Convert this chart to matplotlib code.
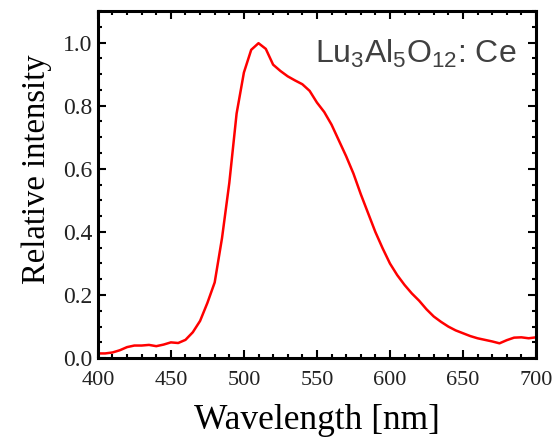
import numpy as np
import matplotlib
matplotlib.use("Agg")
import matplotlib.pyplot as plt
from matplotlib.ticker import MultipleLocator, FormatStrFormatter

# Emission spectrum (5 nm steps)
wavelength = np.arange(400, 701, 5)
intensity = [
    0.015, 0.015, 0.018, 0.025, 0.035, 0.040, 0.040, 0.042, 0.038, 0.043,
    0.050, 0.048, 0.058, 0.082, 0.118, 0.175, 0.240, 0.380, 0.555, 0.775,
    0.905, 0.977, 0.998, 0.980, 0.930, 0.910, 0.893, 0.880, 0.868, 0.847,
    0.810, 0.780, 0.740, 0.690, 0.640, 0.585, 0.520, 0.460, 0.400, 0.348,
    0.300, 0.263, 0.232, 0.205, 0.182, 0.155, 0.132, 0.115, 0.100, 0.088,
    0.079, 0.070, 0.063, 0.058, 0.053, 0.047, 0.057, 0.065, 0.066, 0.063,
    0.066,
]

plt.rcParams['mathtext.fontset'] = 'custom'
plt.rcParams['mathtext.rm'] = 'Liberation Sans'
plt.rcParams['mathtext.it'] = 'Liberation Sans'

fig = plt.figure(figsize=(5.56, 4.40), dpi=100)
ax = fig.add_axes([0.176, 0.186, 0.788, 0.789])

ax.plot(wavelength, intensity, color='red', linewidth=1.8)

ax.set_xlim(400, 700)
ax.set_ylim(0, 1.1)
ax.xaxis.set_major_locator(MultipleLocator(50))
ax.xaxis.set_minor_locator(MultipleLocator(10))
ax.yaxis.set_major_locator(MultipleLocator(0.2))
ax.yaxis.set_minor_locator(MultipleLocator(0.05))
ax.yaxis.set_major_formatter(FormatStrFormatter('%.1f'))

ax.tick_params(which='both', direction='in', top=True, right=True,
               width=1.5, colors='black', labelcolor='#222222')
ax.tick_params(which='major', length=6)
ax.tick_params(which='minor', length=3)
ax.tick_params(axis='x', which='major', pad=9)
ax.tick_params(axis='y', which='major', pad=4)
for lab in ax.get_xticklabels():
    lab.set_family('Liberation Serif')
    lab.set_fontsize(16)
for lab in ax.get_yticklabels():
    lab.set_family('Liberation Serif')
    lab.set_fontsize(17)
for sp in ax.spines.values():
    sp.set_linewidth(2.2)

ax.set_xlabel('Wavelength [nm]', family='Liberation Serif', fontsize=25.5, labelpad=10)
ax.set_ylabel('Relative intensity', family='Liberation Serif', fontsize=23.5)
ax.yaxis.set_label_coords(-0.105, 0.545)

ax.text(0.955, 0.85, r'Lu$_3$Al$_5$O$_{12}$: Ce', transform=ax.transAxes,
        ha='right', va='baseline', fontsize=23, color='#404040',
        family='Liberation Sans')

fig.savefig('out.png', dpi=100)
